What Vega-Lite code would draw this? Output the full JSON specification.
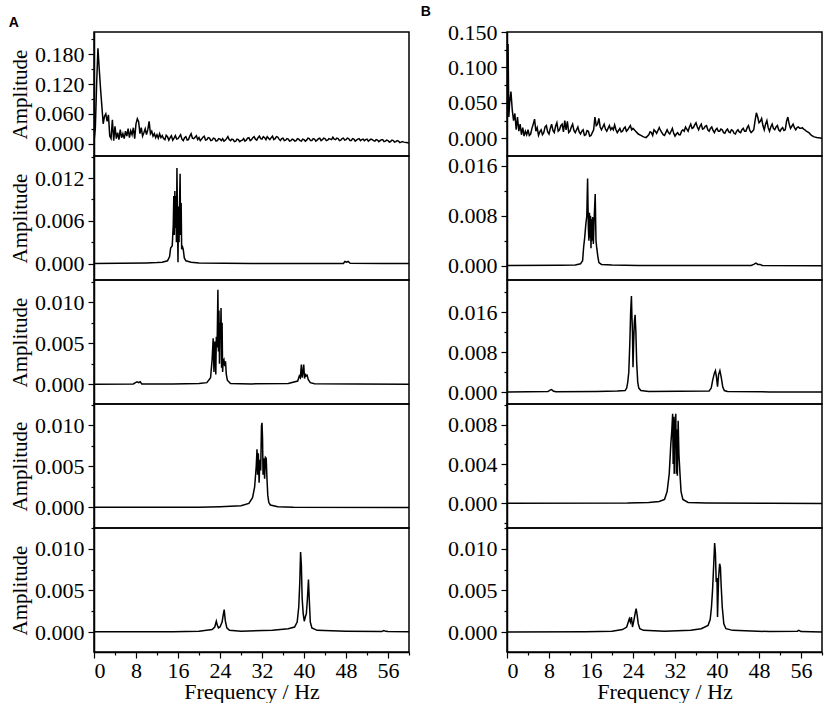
{
"$schema": "https://vega.github.io/schema/vega-lite/v6.json",
"background": "white",
"padding": {"left": 8, "top": 5, "right": 5, "bottom": 0},
"config": {
  "view": {"stroke": "black", "strokeWidth": 1.5},
  "axis": {"domainColor": "black", "domainWidth": 1.5, "tickColor": "black", "tickWidth": 1.2, "labelFont": "Liberation Serif", "labelFontSize": 22, "labelColor": "black", "titleFont": "Liberation Serif", "titleFontSize": 21, "titleFontWeight": "normal", "titleColor": "black", "grid": false, "labelPadding": 4},
  "axisX": {"labelPadding": 2, "titlePadding": 0, "labelFont": "Liberation Serif", "labelFontSize": 22, "titleFontSize": 22},
  "axisY": {"titlePadding": 4, "labelFont": "Liberation Serif", "labelFontSize": 22}
},
"datasets": {
"d": [
{"p":"A1","f":0,"a":0.004},{"p":"A1","f":0.25,"a":0.03},{"p":"A1","f":0.5,"a":0.12},{"p":"A1","f":0.75,"a":0.192},{"p":"A1","f":1.0,"a":0.15},{"p":"A1","f":1.25,"a":0.11},{"p":"A1","f":1.5,"a":0.075},{"p":"A1","f":1.75,"a":0.04},{"p":"A1","f":2.0,"a":0.055},{"p":"A1","f":2.25,"a":0.06},{"p":"A1","f":2.5,"a":0.045},{"p":"A1","f":2.75,"a":0.058},{"p":"A1","f":3.0,"a":0.015},{"p":"A1","f":3.25,"a":0.01},{"p":"A1","f":3.5,"a":0.048},{"p":"A1","f":3.75,"a":0.006},{"p":"A1","f":4.0,"a":0.035},{"p":"A1","f":4.25,"a":0.01},{"p":"A1","f":4.5,"a":0.022},{"p":"A1","f":4.75,"a":0.008},{"p":"A1","f":5.0,"a":0.028},{"p":"A1","f":5.25,"a":0.012},{"p":"A1","f":5.5,"a":0.02},{"p":"A1","f":5.75,"a":0.01},{"p":"A1","f":6.0,"a":0.025},{"p":"A1","f":6.25,"a":0.015},{"p":"A1","f":6.5,"a":0.03},{"p":"A1","f":6.75,"a":0.012},{"p":"A1","f":7.0,"a":0.026},{"p":"A1","f":7.25,"a":0.018},{"p":"A1","f":7.5,"a":0.032},{"p":"A1","f":7.75,"a":0.01},{"p":"A1","f":8.0,"a":0.04},{"p":"A1","f":8.25,"a":0.05},{"p":"A1","f":8.5,"a":0.044},{"p":"A1","f":8.75,"a":0.02},{"p":"A1","f":9.0,"a":0.032},{"p":"A1","f":9.25,"a":0.015},{"p":"A1","f":9.5,"a":0.022},{"p":"A1","f":9.75,"a":0.03},{"p":"A1","f":10.0,"a":0.018},{"p":"A1","f":10.25,"a":0.028},{"p":"A1","f":10.5,"a":0.045},{"p":"A1","f":10.75,"a":0.02},{"p":"A1","f":11.0,"a":0.025},{"p":"A1","f":11.25,"a":0.015},{"p":"A1","f":11.5,"a":0.02},{"p":"A1","f":11.75,"a":0.012},{"p":"A1","f":12.0,"a":0.018},{"p":"A1","f":12.25,"a":0.011},{"p":"A1","f":12.5,"a":0.02},{"p":"A1","f":12.75,"a":0.012},{"p":"A1","f":13,"a":0.016},{"p":"A1","f":13.25,"a":0.01},{"p":"A1","f":13.5,"a":0.008},{"p":"A1","f":13.75,"a":0.017},{"p":"A1","f":14,"a":0.014},{"p":"A1","f":14.25,"a":0.007},{"p":"A1","f":14.5,"a":0.012},{"p":"A1","f":14.75,"a":0.016},{"p":"A1","f":15,"a":0.007},{"p":"A1","f":15.25,"a":0.011},{"p":"A1","f":15.5,"a":0.016},{"p":"A1","f":15.75,"a":0.009},{"p":"A1","f":16,"a":0.01},{"p":"A1","f":16.25,"a":0.014},{"p":"A1","f":16.5,"a":0.018},{"p":"A1","f":16.75,"a":0.009},{"p":"A1","f":17,"a":0.006},{"p":"A1","f":17.25,"a":0.012},{"p":"A1","f":17.5,"a":0.014},{"p":"A1","f":17.75,"a":0.007},{"p":"A1","f":18,"a":0.008},{"p":"A1","f":18.25,"a":0.015},{"p":"A1","f":18.5,"a":0.02},{"p":"A1","f":18.75,"a":0.011},{"p":"A1","f":19,"a":0.01},{"p":"A1","f":19.25,"a":0.013},{"p":"A1","f":19.5,"a":0.016},{"p":"A1","f":19.75,"a":0.008},{"p":"A1","f":20,"a":0.012},{"p":"A1","f":20.25,"a":0.006},{"p":"A1","f":20.5,"a":0.009},{"p":"A1","f":20.75,"a":0.013},{"p":"A1","f":21,"a":0.015},{"p":"A1","f":21.25,"a":0.007},{"p":"A1","f":21.5,"a":0.008},{"p":"A1","f":21.75,"a":0.012},{"p":"A1","f":22,"a":0.011},{"p":"A1","f":22.25,"a":0.006},{"p":"A1","f":22.5,"a":0.007},{"p":"A1","f":22.75,"a":0.011},{"p":"A1","f":23,"a":0.01},{"p":"A1","f":23.25,"a":0.005},{"p":"A1","f":23.5,"a":0.006},{"p":"A1","f":23.75,"a":0.01},{"p":"A1","f":24,"a":0.009},{"p":"A1","f":24.25,"a":0.006},{"p":"A1","f":24.5,"a":0.01},{"p":"A1","f":24.75,"a":0.005},{"p":"A1","f":25,"a":0.007},{"p":"A1","f":25.25,"a":0.01},{"p":"A1","f":25.5,"a":0.014},{"p":"A1","f":25.75,"a":0.008},{"p":"A1","f":26,"a":0.006},{"p":"A1","f":26.25,"a":0.009},{"p":"A1","f":26.5,"a":0.008},{"p":"A1","f":26.75,"a":0.004},{"p":"A1","f":27,"a":0.005},{"p":"A1","f":27.25,"a":0.009},{"p":"A1","f":27.5,"a":0.008},{"p":"A1","f":27.75,"a":0.004},{"p":"A1","f":28,"a":0.006},{"p":"A1","f":28.25,"a":0.007},{"p":"A1","f":28.5,"a":0.01},{"p":"A1","f":28.75,"a":0.005},{"p":"A1","f":29,"a":0.007},{"p":"A1","f":29.25,"a":0.011},{"p":"A1","f":29.5,"a":0.012},{"p":"A1","f":29.75,"a":0.006},{"p":"A1","f":30,"a":0.008},{"p":"A1","f":30.25,"a":0.012},{"p":"A1","f":30.5,"a":0.014},{"p":"A1","f":30.75,"a":0.009},{"p":"A1","f":31,"a":0.007},{"p":"A1","f":31.25,"a":0.012},{"p":"A1","f":31.5,"a":0.015},{"p":"A1","f":31.75,"a":0.01},{"p":"A1","f":32,"a":0.009},{"p":"A1","f":32.25,"a":0.014},{"p":"A1","f":32.5,"a":0.012},{"p":"A1","f":32.75,"a":0.008},{"p":"A1","f":33,"a":0.014},{"p":"A1","f":33.25,"a":0.011},{"p":"A1","f":33.5,"a":0.008},{"p":"A1","f":33.75,"a":0.012},{"p":"A1","f":34,"a":0.015},{"p":"A1","f":34.25,"a":0.008},{"p":"A1","f":34.5,"a":0.01},{"p":"A1","f":34.75,"a":0.014},{"p":"A1","f":35,"a":0.013},{"p":"A1","f":35.25,"a":0.009},{"p":"A1","f":35.5,"a":0.006},{"p":"A1","f":35.75,"a":0.01},{"p":"A1","f":36,"a":0.011},{"p":"A1","f":36.25,"a":0.006},{"p":"A1","f":36.5,"a":0.007},{"p":"A1","f":36.75,"a":0.01},{"p":"A1","f":37,"a":0.009},{"p":"A1","f":37.25,"a":0.005},{"p":"A1","f":37.5,"a":0.006},{"p":"A1","f":37.75,"a":0.009},{"p":"A1","f":38,"a":0.008},{"p":"A1","f":38.25,"a":0.005},{"p":"A1","f":38.5,"a":0.006},{"p":"A1","f":38.75,"a":0.01},{"p":"A1","f":39,"a":0.009},{"p":"A1","f":39.25,"a":0.006},{"p":"A1","f":39.5,"a":0.005},{"p":"A1","f":39.75,"a":0.009},{"p":"A1","f":40,"a":0.008},{"p":"A1","f":40.25,"a":0.005},{"p":"A1","f":40.5,"a":0.007},{"p":"A1","f":40.75,"a":0.011},{"p":"A1","f":41,"a":0.01},{"p":"A1","f":41.25,"a":0.006},{"p":"A1","f":41.5,"a":0.006},{"p":"A1","f":41.75,"a":0.01},{"p":"A1","f":42,"a":0.009},{"p":"A1","f":42.25,"a":0.005},{"p":"A1","f":42.5,"a":0.007},{"p":"A1","f":42.75,"a":0.01},{"p":"A1","f":43,"a":0.011},{"p":"A1","f":43.25,"a":0.006},{"p":"A1","f":43.5,"a":0.008},{"p":"A1","f":43.75,"a":0.011},{"p":"A1","f":44,"a":0.01},{"p":"A1","f":44.25,"a":0.006},{"p":"A1","f":44.5,"a":0.007},{"p":"A1","f":44.75,"a":0.01},{"p":"A1","f":45,"a":0.009},{"p":"A1","f":45.25,"a":0.008},{"p":"A1","f":45.5,"a":0.013},{"p":"A1","f":45.75,"a":0.009},{"p":"A1","f":46,"a":0.008},{"p":"A1","f":46.25,"a":0.011},{"p":"A1","f":46.5,"a":0.01},{"p":"A1","f":46.75,"a":0.006},{"p":"A1","f":47,"a":0.007},{"p":"A1","f":47.25,"a":0.01},{"p":"A1","f":47.5,"a":0.011},{"p":"A1","f":47.75,"a":0.007},{"p":"A1","f":48,"a":0.008},{"p":"A1","f":48.25,"a":0.011},{"p":"A1","f":48.5,"a":0.01},{"p":"A1","f":48.75,"a":0.006},{"p":"A1","f":49,"a":0.006},{"p":"A1","f":49.25,"a":0.01},{"p":"A1","f":49.5,"a":0.009},{"p":"A1","f":49.75,"a":0.005},{"p":"A1","f":50,"a":0.007},{"p":"A1","f":50.25,"a":0.009},{"p":"A1","f":50.5,"a":0.01},{"p":"A1","f":50.75,"a":0.006},{"p":"A1","f":51,"a":0.008},{"p":"A1","f":51.25,"a":0.009},{"p":"A1","f":51.5,"a":0.006},{"p":"A1","f":51.75,"a":0.008},{"p":"A1","f":52,"a":0.009},{"p":"A1","f":52.25,"a":0.005},{"p":"A1","f":52.5,"a":0.007},{"p":"A1","f":52.75,"a":0.009},{"p":"A1","f":53,"a":0.008},{"p":"A1","f":53.25,"a":0.006},{"p":"A1","f":53.5,"a":0.005},{"p":"A1","f":53.75,"a":0.008},{"p":"A1","f":54,"a":0.007},{"p":"A1","f":54.25,"a":0.004},{"p":"A1","f":54.5,"a":0.006},{"p":"A1","f":54.75,"a":0.008},{"p":"A1","f":55,"a":0.008},{"p":"A1","f":55.25,"a":0.004},{"p":"A1","f":55.5,"a":0.005},{"p":"A1","f":55.75,"a":0.007},{"p":"A1","f":56,"a":0.006},{"p":"A1","f":56.25,"a":0.003},{"p":"A1","f":56.5,"a":0.004},{"p":"A1","f":56.75,"a":0.007},{"p":"A1","f":57,"a":0.006},{"p":"A1","f":57.25,"a":0.003},{"p":"A1","f":57.5,"a":0.004},{"p":"A1","f":57.75,"a":0.006},{"p":"A1","f":58,"a":0.005},{"p":"A1","f":58.25,"a":0.002},{"p":"A1","f":58.5,"a":0.003},{"p":"A1","f":58.75,"a":0.004},{"p":"A1","f":59,"a":0.003},{"p":"A1","f":59.5,"a":0.002},{"p":"A1","f":60,"a":0.001},
{"p":"B1","f":0,"a":0.02},{"p":"B1","f":0.2,"a":0.133},{"p":"B1","f":0.35,"a":0.03},{"p":"B1","f":0.5,"a":0.05},{"p":"B1","f":0.75,"a":0.066},{"p":"B1","f":1.0,"a":0.04},{"p":"B1","f":1.25,"a":0.025},{"p":"B1","f":1.5,"a":0.035},{"p":"B1","f":1.75,"a":0.012},{"p":"B1","f":2.0,"a":0.03},{"p":"B1","f":2.25,"a":0.01},{"p":"B1","f":2.5,"a":0.02},{"p":"B1","f":2.75,"a":0.005},{"p":"B1","f":3.0,"a":0.015},{"p":"B1","f":3.25,"a":0.003},{"p":"B1","f":3.5,"a":0.01},{"p":"B1","f":3.75,"a":0.005},{"p":"B1","f":4.0,"a":0.012},{"p":"B1","f":4.25,"a":0.004},{"p":"B1","f":4.5,"a":0.006},{"p":"B1","f":4.75,"a":0.014},{"p":"B1","f":5.0,"a":0.02},{"p":"B1","f":5.25,"a":0.027},{"p":"B1","f":5.5,"a":0.01},{"p":"B1","f":5.75,"a":0.015},{"p":"B1","f":6.0,"a":0.004},{"p":"B1","f":6.25,"a":0.009},{"p":"B1","f":6.5,"a":0.012},{"p":"B1","f":6.75,"a":0.005},{"p":"B1","f":7.0,"a":0.008},{"p":"B1","f":7.25,"a":0.016},{"p":"B1","f":7.5,"a":0.018},{"p":"B1","f":7.75,"a":0.009},{"p":"B1","f":8.0,"a":0.006},{"p":"B1","f":8.25,"a":0.014},{"p":"B1","f":8.5,"a":0.02},{"p":"B1","f":8.75,"a":0.011},{"p":"B1","f":9.0,"a":0.008},{"p":"B1","f":9.25,"a":0.017},{"p":"B1","f":9.5,"a":0.022},{"p":"B1","f":9.75,"a":0.01},{"p":"B1","f":10.0,"a":0.012},{"p":"B1","f":10.25,"a":0.018},{"p":"B1","f":10.5,"a":0.02},{"p":"B1","f":10.75,"a":0.009},{"p":"B1","f":11.0,"a":0.025},{"p":"B1","f":11.25,"a":0.012},{"p":"B1","f":11.5,"a":0.024},{"p":"B1","f":11.75,"a":0.008},{"p":"B1","f":12,"a":0.01},{"p":"B1","f":12.25,"a":0.016},{"p":"B1","f":12.5,"a":0.02},{"p":"B1","f":12.75,"a":0.011},{"p":"B1","f":13,"a":0.008},{"p":"B1","f":13.25,"a":0.012},{"p":"B1","f":13.5,"a":0.016},{"p":"B1","f":13.75,"a":0.009},{"p":"B1","f":14,"a":0.006},{"p":"B1","f":14.25,"a":0.01},{"p":"B1","f":14.5,"a":0.012},{"p":"B1","f":14.75,"a":0.004},{"p":"B1","f":15,"a":0.005},{"p":"B1","f":15.25,"a":0.011},{"p":"B1","f":15.5,"a":0.01},{"p":"B1","f":15.75,"a":0.003},{"p":"B1","f":16,"a":0.004},{"p":"B1","f":16.25,"a":0.008},{"p":"B1","f":16.5,"a":0.012},{"p":"B1","f":16.75,"a":0.03},{"p":"B1","f":17,"a":0.018},{"p":"B1","f":17.25,"a":0.02},{"p":"B1","f":17.5,"a":0.028},{"p":"B1","f":17.75,"a":0.016},{"p":"B1","f":18,"a":0.012},{"p":"B1","f":18.25,"a":0.016},{"p":"B1","f":18.5,"a":0.02},{"p":"B1","f":18.75,"a":0.013},{"p":"B1","f":19,"a":0.01},{"p":"B1","f":19.25,"a":0.014},{"p":"B1","f":19.5,"a":0.018},{"p":"B1","f":19.75,"a":0.012},{"p":"B1","f":20,"a":0.015},{"p":"B1","f":20.25,"a":0.012},{"p":"B1","f":20.5,"a":0.019},{"p":"B1","f":20.75,"a":0.012},{"p":"B1","f":21,"a":0.008},{"p":"B1","f":21.25,"a":0.011},{"p":"B1","f":21.5,"a":0.014},{"p":"B1","f":21.75,"a":0.009},{"p":"B1","f":22,"a":0.01},{"p":"B1","f":22.25,"a":0.014},{"p":"B1","f":22.5,"a":0.016},{"p":"B1","f":22.75,"a":0.01},{"p":"B1","f":23,"a":0.012},{"p":"B1","f":23.25,"a":0.015},{"p":"B1","f":23.5,"a":0.018},{"p":"B1","f":23.75,"a":0.012},{"p":"B1","f":24,"a":0.014},{"p":"B1","f":24.25,"a":0.012},{"p":"B1","f":24.5,"a":0.01},{"p":"B1","f":24.75,"a":0.008},{"p":"B1","f":25,"a":0.006},{"p":"B1","f":25.5,"a":0.004},{"p":"B1","f":26,"a":0.002},{"p":"B1","f":26.5,"a":0.001},{"p":"B1","f":27,"a":0.005},{"p":"B1","f":27.25,"a":0.009},{"p":"B1","f":27.5,"a":0.008},{"p":"B1","f":27.75,"a":0.004},{"p":"B1","f":28,"a":0.012},{"p":"B1","f":28.25,"a":0.01},{"p":"B1","f":28.5,"a":0.007},{"p":"B1","f":28.75,"a":0.011},{"p":"B1","f":29,"a":0.015},{"p":"B1","f":29.25,"a":0.011},{"p":"B1","f":29.5,"a":0.008},{"p":"B1","f":29.75,"a":0.005},{"p":"B1","f":30,"a":0.004},{"p":"B1","f":30.25,"a":0.008},{"p":"B1","f":30.5,"a":0.012},{"p":"B1","f":30.75,"a":0.008},{"p":"B1","f":31,"a":0.006},{"p":"B1","f":31.25,"a":0.01},{"p":"B1","f":31.5,"a":0.014},{"p":"B1","f":31.75,"a":0.007},{"p":"B1","f":32,"a":0.003},{"p":"B1","f":32.25,"a":0.006},{"p":"B1","f":32.5,"a":0.008},{"p":"B1","f":32.75,"a":0.005},{"p":"B1","f":33,"a":0.005},{"p":"B1","f":33.25,"a":0.01},{"p":"B1","f":33.5,"a":0.012},{"p":"B1","f":33.75,"a":0.01},{"p":"B1","f":34,"a":0.016},{"p":"B1","f":34.25,"a":0.013},{"p":"B1","f":34.5,"a":0.01},{"p":"B1","f":34.75,"a":0.016},{"p":"B1","f":35,"a":0.02},{"p":"B1","f":35.25,"a":0.014},{"p":"B1","f":35.5,"a":0.015},{"p":"B1","f":35.75,"a":0.019},{"p":"B1","f":36,"a":0.022},{"p":"B1","f":36.25,"a":0.016},{"p":"B1","f":36.5,"a":0.012},{"p":"B1","f":36.75,"a":0.017},{"p":"B1","f":37,"a":0.02},{"p":"B1","f":37.25,"a":0.013},{"p":"B1","f":37.5,"a":0.014},{"p":"B1","f":37.75,"a":0.017},{"p":"B1","f":38,"a":0.018},{"p":"B1","f":38.25,"a":0.012},{"p":"B1","f":38.5,"a":0.01},{"p":"B1","f":38.75,"a":0.014},{"p":"B1","f":39,"a":0.016},{"p":"B1","f":39.25,"a":0.011},{"p":"B1","f":39.5,"a":0.008},{"p":"B1","f":39.75,"a":0.012},{"p":"B1","f":40,"a":0.014},{"p":"B1","f":40.25,"a":0.01},{"p":"B1","f":40.5,"a":0.01},{"p":"B1","f":40.75,"a":0.013},{"p":"B1","f":41,"a":0.012},{"p":"B1","f":41.25,"a":0.008},{"p":"B1","f":41.5,"a":0.007},{"p":"B1","f":41.75,"a":0.011},{"p":"B1","f":42,"a":0.013},{"p":"B1","f":42.25,"a":0.009},{"p":"B1","f":42.5,"a":0.008},{"p":"B1","f":42.75,"a":0.012},{"p":"B1","f":43,"a":0.011},{"p":"B1","f":43.25,"a":0.007},{"p":"B1","f":43.5,"a":0.006},{"p":"B1","f":43.75,"a":0.01},{"p":"B1","f":44,"a":0.012},{"p":"B1","f":44.25,"a":0.009},{"p":"B1","f":44.5,"a":0.008},{"p":"B1","f":44.75,"a":0.012},{"p":"B1","f":45,"a":0.014},{"p":"B1","f":45.25,"a":0.01},{"p":"B1","f":45.5,"a":0.01},{"p":"B1","f":45.75,"a":0.015},{"p":"B1","f":46,"a":0.018},{"p":"B1","f":46.25,"a":0.011},{"p":"B1","f":46.5,"a":0.008},{"p":"B1","f":46.75,"a":0.01},{"p":"B1","f":47,"a":0.012},{"p":"B1","f":47.25,"a":0.025},{"p":"B1","f":47.5,"a":0.036},{"p":"B1","f":47.75,"a":0.03},{"p":"B1","f":48,"a":0.022},{"p":"B1","f":48.25,"a":0.024},{"p":"B1","f":48.5,"a":0.028},{"p":"B1","f":48.75,"a":0.018},{"p":"B1","f":49,"a":0.012},{"p":"B1","f":49.25,"a":0.02},{"p":"B1","f":49.5,"a":0.025},{"p":"B1","f":49.75,"a":0.015},{"p":"B1","f":50,"a":0.01},{"p":"B1","f":50.25,"a":0.016},{"p":"B1","f":50.5,"a":0.02},{"p":"B1","f":50.75,"a":0.014},{"p":"B1","f":51,"a":0.012},{"p":"B1","f":51.25,"a":0.016},{"p":"B1","f":51.5,"a":0.018},{"p":"B1","f":51.75,"a":0.012},{"p":"B1","f":52,"a":0.01},{"p":"B1","f":52.25,"a":0.013},{"p":"B1","f":52.5,"a":0.015},{"p":"B1","f":52.75,"a":0.011},{"p":"B1","f":53,"a":0.012},{"p":"B1","f":53.25,"a":0.024},{"p":"B1","f":53.5,"a":0.03},{"p":"B1","f":53.75,"a":0.02},{"p":"B1","f":54,"a":0.014},{"p":"B1","f":54.25,"a":0.017},{"p":"B1","f":54.5,"a":0.02},{"p":"B1","f":54.75,"a":0.015},{"p":"B1","f":55,"a":0.012},{"p":"B1","f":55.25,"a":0.015},{"p":"B1","f":55.5,"a":0.016},{"p":"B1","f":55.75,"a":0.014},{"p":"B1","f":56,"a":0.014},{"p":"B1","f":56.25,"a":0.015},{"p":"B1","f":56.5,"a":0.013},{"p":"B1","f":56.75,"a":0.012},{"p":"B1","f":57,"a":0.01},{"p":"B1","f":57.5,"a":0.008},{"p":"B1","f":58,"a":0.004},{"p":"B1","f":58.5,"a":0.002},{"p":"B1","f":59,"a":0.001},{"p":"B1","f":60,"a":0.0},
{"p":"A2","f":0,"a":0.00003},{"p":"A2","f":5,"a":0.00005},{"p":"A2","f":10,"a":0.0001},{"p":"A2","f":12,"a":0.00015},{"p":"A2","f":13,"a":0.0002},{"p":"A2","f":14,"a":0.0004},{"p":"A2","f":14.4,"a":0.001},{"p":"A2","f":14.6,"a":0.0022},{"p":"A2","f":14.9,"a":0.0025},{"p":"A2","f":15.1,"a":0.0055},{"p":"A2","f":15.2,"a":0.0095},{"p":"A2","f":15.3,"a":0.004},{"p":"A2","f":15.4,"a":0.0102},{"p":"A2","f":15.5,"a":0.005},{"p":"A2","f":15.6,"a":0.0095},{"p":"A2","f":15.7,"a":0.003},{"p":"A2","f":15.8,"a":0.0134},{"p":"A2","f":15.9,"a":0.006},{"p":"A2","f":16.0,"a":0.0002},{"p":"A2","f":16.1,"a":0.008},{"p":"A2","f":16.2,"a":0.003},{"p":"A2","f":16.3,"a":0.0085},{"p":"A2","f":16.4,"a":0.0126},{"p":"A2","f":16.5,"a":0.004},{"p":"A2","f":16.6,"a":0.0085},{"p":"A2","f":16.7,"a":0.002},{"p":"A2","f":16.8,"a":0.0025},{"p":"A2","f":17.0,"a":0.002},{"p":"A2","f":17.2,"a":0.0008},{"p":"A2","f":17.5,"a":0.0004},{"p":"A2","f":18.5,"a":0.0002},{"p":"A2","f":20,"a":0.0001},{"p":"A2","f":25,"a":0.00005},{"p":"A2","f":30,"a":0.00003},{"p":"A2","f":47.5,"a":0.00003},{"p":"A2","f":47.8,"a":0.0003},{"p":"A2","f":48.1,"a":0.0002},{"p":"A2","f":48.4,"a":0.0003},{"p":"A2","f":48.8,"a":0.00005},{"p":"A2","f":55,"a":0.00002},{"p":"A2","f":60,"a":0.00001},
{"p":"B2","f":0,"a":0.00002},{"p":"B2","f":10,"a":0.00005},{"p":"B2","f":13,"a":0.0001},{"p":"B2","f":14,"a":0.0003},{"p":"B2","f":14.4,"a":0.0008},{"p":"B2","f":14.6,"a":0.003},{"p":"B2","f":14.8,"a":0.0045},{"p":"B2","f":15.0,"a":0.0065},{"p":"B2","f":15.2,"a":0.008},{"p":"B2","f":15.35,"a":0.014},{"p":"B2","f":15.5,"a":0.006},{"p":"B2","f":15.6,"a":0.004},{"p":"B2","f":15.7,"a":0.0085},{"p":"B2","f":15.8,"a":0.0045},{"p":"B2","f":15.9,"a":0.008},{"p":"B2","f":16.0,"a":0.0028},{"p":"B2","f":16.1,"a":0.0075},{"p":"B2","f":16.2,"a":0.004},{"p":"B2","f":16.3,"a":0.0078},{"p":"B2","f":16.45,"a":0.0035},{"p":"B2","f":16.6,"a":0.0075},{"p":"B2","f":16.8,"a":0.0115},{"p":"B2","f":16.95,"a":0.004},{"p":"B2","f":17.1,"a":0.0028},{"p":"B2","f":17.3,"a":0.0015},{"p":"B2","f":17.5,"a":0.0005},{"p":"B2","f":18,"a":0.0002},{"p":"B2","f":20,"a":0.0001},{"p":"B2","f":25,"a":0.00003},{"p":"B2","f":46.5,"a":0.00003},{"p":"B2","f":47,"a":0.0002},{"p":"B2","f":47.4,"a":0.0004},{"p":"B2","f":47.8,"a":0.0002},{"p":"B2","f":48.2,"a":0.0002},{"p":"B2","f":48.6,"a":0.00003},{"p":"B2","f":60,"a":0.0},
{"p":"A3","f":0,"a":0.00002},{"p":"A3","f":7.5,"a":0.00005},{"p":"A3","f":7.9,"a":0.0002},{"p":"A3","f":8.2,"a":0.0003},{"p":"A3","f":8.5,"a":0.0002},{"p":"A3","f":8.8,"a":0.0003},{"p":"A3","f":9.1,"a":0.00005},{"p":"A3","f":15,"a":0.00005},{"p":"A3","f":20,"a":0.0001},{"p":"A3","f":21.5,"a":0.0002},{"p":"A3","f":22.2,"a":0.0008},{"p":"A3","f":22.5,"a":0.003},{"p":"A3","f":22.7,"a":0.0056},{"p":"A3","f":22.85,"a":0.0015},{"p":"A3","f":23.0,"a":0.0052},{"p":"A3","f":23.1,"a":0.004},{"p":"A3","f":23.2,"a":0.0012},{"p":"A3","f":23.3,"a":0.0058},{"p":"A3","f":23.45,"a":0.0045},{"p":"A3","f":23.6,"a":0.0115},{"p":"A3","f":23.7,"a":0.004},{"p":"A3","f":23.8,"a":0.009},{"p":"A3","f":23.9,"a":0.0025},{"p":"A3","f":24.0,"a":0.0075},{"p":"A3","f":24.1,"a":0.006},{"p":"A3","f":24.2,"a":0.0093},{"p":"A3","f":24.3,"a":0.002},{"p":"A3","f":24.4,"a":0.0075},{"p":"A3","f":24.5,"a":0.0015},{"p":"A3","f":24.6,"a":0.0028},{"p":"A3","f":24.75,"a":0.003},{"p":"A3","f":24.9,"a":0.0022},{"p":"A3","f":25.05,"a":0.0028},{"p":"A3","f":25.2,"a":0.0012},{"p":"A3","f":25.4,"a":0.0005},{"p":"A3","f":26,"a":0.0001},{"p":"A3","f":30,"a":0.00005},{"p":"A3","f":37,"a":0.0001},{"p":"A3","f":38.8,"a":0.0004},{"p":"A3","f":39.1,"a":0.001},{"p":"A3","f":39.3,"a":0.0008},{"p":"A3","f":39.5,"a":0.0024},{"p":"A3","f":39.65,"a":0.0008},{"p":"A3","f":39.8,"a":0.0015},{"p":"A3","f":39.95,"a":0.0024},{"p":"A3","f":40.1,"a":0.0007},{"p":"A3","f":40.25,"a":0.0013},{"p":"A3","f":40.4,"a":0.001},{"p":"A3","f":40.6,"a":0.0011},{"p":"A3","f":40.8,"a":0.0006},{"p":"A3","f":41.2,"a":0.0002},{"p":"A3","f":42,"a":0.00008},{"p":"A3","f":50,"a":0.00003},{"p":"A3","f":60,"a":0.00001},
{"p":"B3","f":0,"a":0.00002},{"p":"B3","f":7.8,"a":0.0001},{"p":"B3","f":8.2,"a":0.0004},{"p":"B3","f":8.5,"a":0.0005},{"p":"B3","f":8.8,"a":0.0002},{"p":"B3","f":9.3,"a":0.00005},{"p":"B3","f":17,"a":0.0001},{"p":"B3","f":21,"a":0.0002},{"p":"B3","f":22.5,"a":0.0003},{"p":"B3","f":22.8,"a":0.0008},{"p":"B3","f":23.0,"a":0.002},{"p":"B3","f":23.2,"a":0.004},{"p":"B3","f":23.4,"a":0.01},{"p":"B3","f":23.55,"a":0.016},{"p":"B3","f":23.7,"a":0.0193},{"p":"B3","f":23.8,"a":0.015},{"p":"B3","f":23.9,"a":0.012},{"p":"B3","f":24.0,"a":0.005},{"p":"B3","f":24.1,"a":0.009},{"p":"B3","f":24.25,"a":0.014},{"p":"B3","f":24.4,"a":0.0155},{"p":"B3","f":24.55,"a":0.012},{"p":"B3","f":24.7,"a":0.006},{"p":"B3","f":24.9,"a":0.002},{"p":"B3","f":25.1,"a":0.0008},{"p":"B3","f":25.5,"a":0.0003},{"p":"B3","f":27,"a":0.0001},{"p":"B3","f":38.5,"a":0.0002},{"p":"B3","f":38.9,"a":0.0008},{"p":"B3","f":39.2,"a":0.0025},{"p":"B3","f":39.5,"a":0.0038},{"p":"B3","f":39.7,"a":0.0043},{"p":"B3","f":39.9,"a":0.003},{"p":"B3","f":40.1,"a":0.0011},{"p":"B3","f":40.3,"a":0.0035},{"p":"B3","f":40.55,"a":0.0043},{"p":"B3","f":40.8,"a":0.003},{"p":"B3","f":41.1,"a":0.001},{"p":"B3","f":41.4,"a":0.0003},{"p":"B3","f":42,"a":0.0001},{"p":"B3","f":50,"a":0.00003},{"p":"B3","f":60,"a":0.0},
{"p":"A4","f":0,"a":0.00002},{"p":"A4","f":20,"a":0.00003},{"p":"A4","f":24,"a":0.0001},{"p":"A4","f":28,"a":0.0002},{"p":"A4","f":29.5,"a":0.0005},{"p":"A4","f":30.2,"a":0.0012},{"p":"A4","f":30.6,"a":0.0025},{"p":"A4","f":30.9,"a":0.005},{"p":"A4","f":31.05,"a":0.0071},{"p":"A4","f":31.15,"a":0.004},{"p":"A4","f":31.3,"a":0.0066},{"p":"A4","f":31.45,"a":0.003},{"p":"A4","f":31.6,"a":0.0058},{"p":"A4","f":31.75,"a":0.0045},{"p":"A4","f":31.9,"a":0.0099},{"p":"A4","f":32.0,"a":0.0103},{"p":"A4","f":32.1,"a":0.0085},{"p":"A4","f":32.2,"a":0.004},{"p":"A4","f":32.35,"a":0.006},{"p":"A4","f":32.5,"a":0.0035},{"p":"A4","f":32.65,"a":0.0061},{"p":"A4","f":32.8,"a":0.006},{"p":"A4","f":32.95,"a":0.0035},{"p":"A4","f":33.1,"a":0.0015},{"p":"A4","f":33.3,"a":0.0006},{"p":"A4","f":33.6,"a":0.0003},{"p":"A4","f":35,"a":0.0001},{"p":"A4","f":38,"a":0.00003},{"p":"A4","f":60,"a":0.00001},
{"p":"B4","f":0,"a":0.00001},{"p":"B4","f":23,"a":0.00003},{"p":"B4","f":27,"a":0.0001},{"p":"B4","f":29,"a":0.0002},{"p":"B4","f":30,"a":0.0004},{"p":"B4","f":30.5,"a":0.0012},{"p":"B4","f":30.9,"a":0.003},{"p":"B4","f":31.2,"a":0.006},{"p":"B4","f":31.4,"a":0.0075},{"p":"B4","f":31.55,"a":0.0091},{"p":"B4","f":31.65,"a":0.004},{"p":"B4","f":31.75,"a":0.0088},{"p":"B4","f":31.85,"a":0.003},{"p":"B4","f":31.95,"a":0.0072},{"p":"B4","f":32.05,"a":0.0085},{"p":"B4","f":32.15,"a":0.0091},{"p":"B4","f":32.25,"a":0.003},{"p":"B4","f":32.35,"a":0.0075},{"p":"B4","f":32.45,"a":0.0028},{"p":"B4","f":32.6,"a":0.0084},{"p":"B4","f":32.75,"a":0.005},{"p":"B4","f":32.95,"a":0.003},{"p":"B4","f":33.15,"a":0.0012},{"p":"B4","f":33.5,"a":0.0004},{"p":"B4","f":34.5,"a":0.0001},{"p":"B4","f":38,"a":0.00005},{"p":"B4","f":50,"a":0.00001},{"p":"B4","f":60,"a":0.0},
{"p":"A5","f":0,"a":0.00002},{"p":"A5","f":15,"a":0.00003},{"p":"A5","f":20,"a":0.0001},{"p":"A5","f":22.5,"a":0.0003},{"p":"A5","f":23.0,"a":0.0006},{"p":"A5","f":23.3,"a":0.0013},{"p":"A5","f":23.5,"a":0.0008},{"p":"A5","f":23.7,"a":0.0005},{"p":"A5","f":24.0,"a":0.0006},{"p":"A5","f":24.4,"a":0.0012},{"p":"A5","f":24.6,"a":0.002},{"p":"A5","f":24.8,"a":0.0027},{"p":"A5","f":25.0,"a":0.0014},{"p":"A5","f":25.3,"a":0.0005},{"p":"A5","f":25.8,"a":0.0002},{"p":"A5","f":28,"a":0.0001},{"p":"A5","f":34,"a":0.0002},{"p":"A5","f":37,"a":0.0004},{"p":"A5","f":38.2,"a":0.0006},{"p":"A5","f":38.7,"a":0.0012},{"p":"A5","f":39.0,"a":0.003},{"p":"A5","f":39.2,"a":0.006},{"p":"A5","f":39.35,"a":0.0096},{"p":"A5","f":39.5,"a":0.008},{"p":"A5","f":39.65,"a":0.004},{"p":"A5","f":39.85,"a":0.0022},{"p":"A5","f":40.05,"a":0.0013},{"p":"A5","f":40.25,"a":0.0018},{"p":"A5","f":40.45,"a":0.0022},{"p":"A5","f":40.65,"a":0.004},{"p":"A5","f":40.85,"a":0.0063},{"p":"A5","f":41.0,"a":0.004},{"p":"A5","f":41.2,"a":0.0012},{"p":"A5","f":41.5,"a":0.0005},{"p":"A5","f":42.5,"a":0.0002},{"p":"A5","f":48,"a":0.0001},{"p":"A5","f":54.8,"a":0.00005},{"p":"A5","f":55.2,"a":0.00018},{"p":"A5","f":55.6,"a":0.00008},{"p":"A5","f":56,"a":0.00005},{"p":"A5","f":60,"a":0.00002},
{"p":"B5","f":0,"a":0.00001},{"p":"B5","f":15,"a":0.00003},{"p":"B5","f":20,"a":0.0001},{"p":"B5","f":22,"a":0.0003},{"p":"B5","f":22.8,"a":0.0006},{"p":"B5","f":23.1,"a":0.0012},{"p":"B5","f":23.3,"a":0.0016},{"p":"B5","f":23.5,"a":0.0012},{"p":"B5","f":23.7,"a":0.0018},{"p":"B5","f":23.9,"a":0.0006},{"p":"B5","f":24.2,"a":0.0015},{"p":"B5","f":24.45,"a":0.0024},{"p":"B5","f":24.6,"a":0.0028},{"p":"B5","f":24.8,"a":0.002},{"p":"B5","f":25.0,"a":0.001},{"p":"B5","f":25.3,"a":0.0004},{"p":"B5","f":26,"a":0.0002},{"p":"B5","f":30,"a":0.0001},{"p":"B5","f":35,"a":0.0002},{"p":"B5","f":37,"a":0.0004},{"p":"B5","f":38.3,"a":0.0008},{"p":"B5","f":38.7,"a":0.0015},{"p":"B5","f":38.95,"a":0.003},{"p":"B5","f":39.15,"a":0.005},{"p":"B5","f":39.4,"a":0.0085},{"p":"B5","f":39.55,"a":0.0107},{"p":"B5","f":39.7,"a":0.0095},{"p":"B5","f":39.85,"a":0.006},{"p":"B5","f":40.0,"a":0.0065},{"p":"B5","f":40.1,"a":0.0018},{"p":"B5","f":40.3,"a":0.0065},{"p":"B5","f":40.5,"a":0.0082},{"p":"B5","f":40.65,"a":0.0078},{"p":"B5","f":40.8,"a":0.0055},{"p":"B5","f":41.0,"a":0.003},{"p":"B5","f":41.3,"a":0.001},{"p":"B5","f":41.7,"a":0.0004},{"p":"B5","f":43,"a":0.0002},{"p":"B5","f":50,"a":0.00005},{"p":"B5","f":55.3,"a":0.0001},{"p":"B5","f":55.6,"a":0.0002},{"p":"B5","f":56,"a":0.00005},{"p":"B5","f":60,"a":0.0}
]
},
"data": {"name": "d"},
"hconcat": [
{
 "title": {"text": "A", "anchor": "start", "font": "Liberation Sans", "fontSize": 14, "fontWeight": "bold", "color": "black", "offset": 1, "dx": 0},
 "spacing": 0, "bounds": "flush",
 "vconcat": [
  {"width": 315, "height": 124, "transform": [{"filter": "datum.p === 'A1'"}],
   "mark": {"type": "line", "color": "black", "strokeWidth": 1.5, "clip": true},
   "encoding": {"x": {"field": "f", "type": "quantitative", "scale": {"domain": [0, 60], "nice": false}, "axis": null},
     "y": {"field": "a", "type": "quantitative", "scale": {"domain": [-0.025, 0.225], "nice": false, "zero": false},
       "axis": {"title": "Amplitude", "values": [0,0.03,0.06,0.09,0.12,0.15,0.18,0.21], "format": ".3f",
         "labelExpr": "indexof([0,0.06,0.12,0.18], datum.value) >= 0 ? datum.label : ''",
         "tickSize": {"condition": {"test": "indexof([0,0.06,0.12,0.18], datum.value) >= 0", "value": 6}, "value": 3}}}}},
  {"width": 315, "height": 124, "transform": [{"filter": "datum.p === 'A2'"}],
   "mark": {"type": "line", "color": "black", "strokeWidth": 1.5, "clip": true},
   "encoding": {"x": {"field": "f", "type": "quantitative", "scale": {"domain": [0, 60], "nice": false}, "axis": null},
     "y": {"field": "a", "type": "quantitative", "scale": {"domain": [-0.0023, 0.0151], "nice": false, "zero": false},
       "axis": {"title": "Amplitude", "values": [0,0.003,0.006,0.009,0.012,0.015], "format": ".3f",
         "labelExpr": "indexof([0,0.006,0.012], datum.value) >= 0 ? datum.label : ''",
         "tickSize": {"condition": {"test": "indexof([0,0.006,0.012], datum.value) >= 0", "value": 6}, "value": 3}}}}},
  {"width": 315, "height": 124, "transform": [{"filter": "datum.p === 'A3'"}],
   "mark": {"type": "line", "color": "black", "strokeWidth": 1.5, "clip": true},
   "encoding": {"x": {"field": "f", "type": "quantitative", "scale": {"domain": [0, 60], "nice": false}, "axis": null},
     "y": {"field": "a", "type": "quantitative", "scale": {"domain": [-0.0024, 0.0127], "nice": false, "zero": false},
       "axis": {"title": "Amplitude", "values": [0,0.0025,0.005,0.0075,0.01,0.0125], "format": ".3f",
         "labelExpr": "indexof([0,0.005,0.01], datum.value) >= 0 ? datum.label : ''",
         "tickSize": {"condition": {"test": "indexof([0,0.005,0.01], datum.value) >= 0", "value": 6}, "value": 3}}}}},
  {"width": 315, "height": 124, "transform": [{"filter": "datum.p === 'A4'"}],
   "mark": {"type": "line", "color": "black", "strokeWidth": 1.5, "clip": true},
   "encoding": {"x": {"field": "f", "type": "quantitative", "scale": {"domain": [0, 60], "nice": false}, "axis": null},
     "y": {"field": "a", "type": "quantitative", "scale": {"domain": [-0.0025, 0.0126], "nice": false, "zero": false},
       "axis": {"title": "Amplitude", "values": [0,0.0025,0.005,0.0075,0.01,0.0125], "format": ".3f",
         "labelExpr": "indexof([0,0.005,0.01], datum.value) >= 0 ? datum.label : ''",
         "tickSize": {"condition": {"test": "indexof([0,0.005,0.01], datum.value) >= 0", "value": 6}, "value": 3}}}}},
  {"width": 315, "height": 124, "transform": [{"filter": "datum.p === 'A5'"}],
   "mark": {"type": "line", "color": "black", "strokeWidth": 1.5, "clip": true},
   "encoding": {"x": {"field": "f", "type": "quantitative", "scale": {"domain": [0, 60], "nice": false},
       "axis": {"title": "Frequency / Hz", "values": [0,4,8,12,16,20,24,28,32,36,40,44,48,52,56,60],
         "labelExpr": "datum.value % 8 === 0 && datum.value < 60 ? datum.label : ''",
         "tickSize": {"condition": {"test": "datum.value % 8 === 0", "value": 6}, "value": 3}}},
     "y": {"field": "a", "type": "quantitative", "scale": {"domain": [-0.0024, 0.0125], "nice": false, "zero": false},
       "axis": {"title": "Amplitude", "values": [0,0.0025,0.005,0.0075,0.01,0.0125], "format": ".3f",
         "labelExpr": "indexof([0,0.005,0.01], datum.value) >= 0 ? datum.label : ''",
         "tickSize": {"condition": {"test": "indexof([0,0.005,0.01], datum.value) >= 0", "value": 6}, "value": 3}}}}}
 ]
},
{
 "title": {"text": "B", "anchor": "start", "font": "Liberation Sans", "fontSize": 14, "fontWeight": "bold", "color": "black", "offset": 1, "dx": -26},
 "spacing": 0, "bounds": "flush",
 "vconcat": [
  {"width": 315, "height": 124, "transform": [{"filter": "datum.p === 'B1'"}],
   "mark": {"type": "line", "color": "black", "strokeWidth": 1.5, "clip": true},
   "encoding": {"x": {"field": "f", "type": "quantitative", "scale": {"domain": [0, 60], "nice": false}, "axis": null},
     "y": {"field": "a", "type": "quantitative", "scale": {"domain": [-0.025, 0.15], "nice": false, "zero": false},
       "axis": {"title": null, "values": [0,0.025,0.05,0.075,0.1,0.125,0.15], "format": ".3f",
         "labelExpr": "indexof([0,0.05,0.1,0.15], datum.value) >= 0 ? datum.label : ''",
         "tickSize": {"condition": {"test": "indexof([0,0.05,0.1,0.15], datum.value) >= 0", "value": 6}, "value": 3}}}}},
  {"width": 315, "height": 124, "transform": [{"filter": "datum.p === 'B2'"}],
   "mark": {"type": "line", "color": "black", "strokeWidth": 1.5, "clip": true},
   "encoding": {"x": {"field": "f", "type": "quantitative", "scale": {"domain": [0, 60], "nice": false}, "axis": null},
     "y": {"field": "a", "type": "quantitative", "scale": {"domain": [-0.0023, 0.0176], "nice": false, "zero": false},
       "axis": {"title": null, "values": [0,0.004,0.008,0.012,0.016], "format": ".3f",
         "labelExpr": "indexof([0,0.008,0.016], datum.value) >= 0 ? datum.label : ''",
         "tickSize": {"condition": {"test": "indexof([0,0.008,0.016], datum.value) >= 0", "value": 6}, "value": 3}}}}},
  {"width": 315, "height": 124, "transform": [{"filter": "datum.p === 'B3'"}],
   "mark": {"type": "line", "color": "black", "strokeWidth": 1.5, "clip": true},
   "encoding": {"x": {"field": "f", "type": "quantitative", "scale": {"domain": [0, 60], "nice": false}, "axis": null},
     "y": {"field": "a", "type": "quantitative", "scale": {"domain": [-0.0024, 0.0225], "nice": false, "zero": false},
       "axis": {"title": null, "values": [0,0.004,0.008,0.012,0.016,0.02], "format": ".3f",
         "labelExpr": "indexof([0,0.008,0.016], datum.value) >= 0 ? datum.label : ''",
         "tickSize": {"condition": {"test": "indexof([0,0.008,0.016], datum.value) >= 0", "value": 6}, "value": 3}}}}},
  {"width": 315, "height": 124, "transform": [{"filter": "datum.p === 'B4'"}],
   "mark": {"type": "line", "color": "black", "strokeWidth": 1.5, "clip": true},
   "encoding": {"x": {"field": "f", "type": "quantitative", "scale": {"domain": [0, 60], "nice": false}, "axis": null},
     "y": {"field": "a", "type": "quantitative", "scale": {"domain": [-0.0025, 0.0101], "nice": false, "zero": false},
       "axis": {"title": null, "values": [-0.002,0,0.002,0.004,0.006,0.008,0.01], "format": ".3f",
         "labelExpr": "indexof([0,0.004,0.008], datum.value) >= 0 ? datum.label : ''",
         "tickSize": {"condition": {"test": "indexof([0,0.004,0.008], datum.value) >= 0", "value": 6}, "value": 3}}}}},
  {"width": 315, "height": 124, "transform": [{"filter": "datum.p === 'B5'"}],
   "mark": {"type": "line", "color": "black", "strokeWidth": 1.5, "clip": true},
   "encoding": {"x": {"field": "f", "type": "quantitative", "scale": {"domain": [0, 60], "nice": false},
       "axis": {"title": "Frequency / Hz", "values": [0,4,8,12,16,20,24,28,32,36,40,44,48,52,56,60],
         "labelExpr": "datum.value % 8 === 0 && datum.value < 60 ? datum.label : ''",
         "tickSize": {"condition": {"test": "datum.value % 8 === 0", "value": 6}, "value": 3}}},
     "y": {"field": "a", "type": "quantitative", "scale": {"domain": [-0.0024, 0.0125], "nice": false, "zero": false},
       "axis": {"title": null, "values": [0,0.0025,0.005,0.0075,0.01,0.0125], "format": ".3f",
         "labelExpr": "indexof([0,0.005,0.01], datum.value) >= 0 ? datum.label : ''",
         "tickSize": {"condition": {"test": "indexof([0,0.005,0.01], datum.value) >= 0", "value": 6}, "value": 3}}}}}
 ]
}
],
"spacing": 9
}
